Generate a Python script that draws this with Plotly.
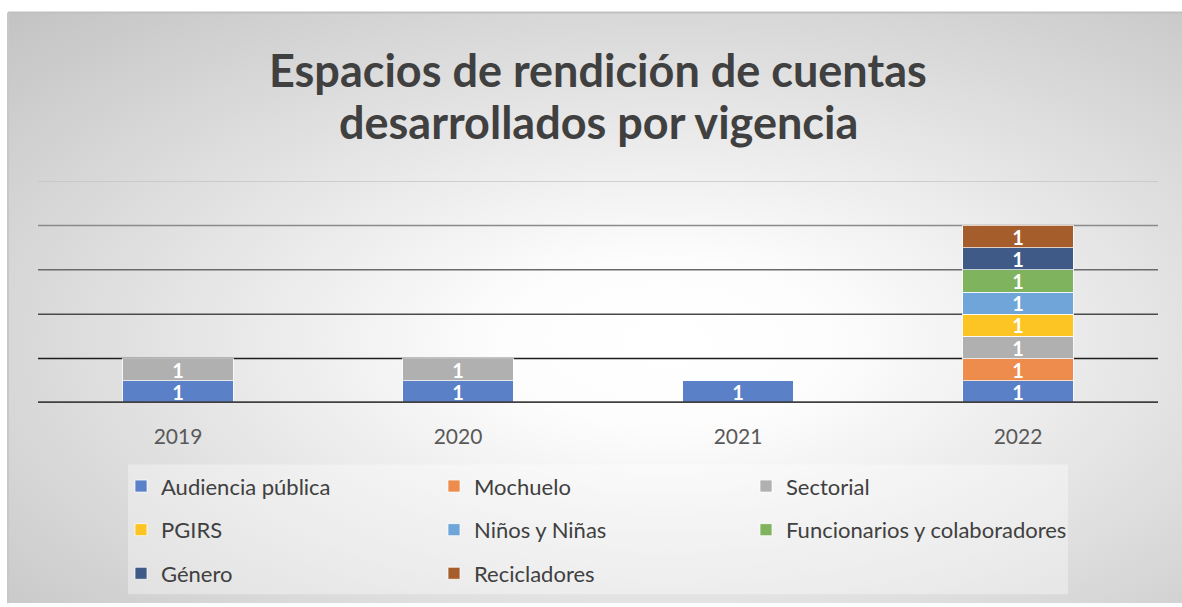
import base64
import plotly.graph_objects as go

years = ["2019", "2020", "2021", "2022"]
series_names = ["Audiencia pública", "Mochuelo", "Sectorial", "PGIRS",
                "Niños y Niñas", "Funcionarios y colaboradores", "Género", "Recicladores"]
audiencia = [1, 1, 1, 1]
mochuelo = [None, None, None, 1]
sectorial = [1, 1, None, 1]
pgirs = [None, None, None, 1]
ninos = [None, None, None, 1]
funcionarios = [None, None, None, 1]
genero = [None, None, None, 1]
recicladores = [None, None, None, 1]
values = [audiencia, mochuelo, sectorial, pgirs, ninos, funcionarios, genero, recicladores]
colors = ["#5a80c8", "#ed8c4c", "#b0b0b0", "#fcc523", "#6fa5d8", "#80b35e", "#3f5a87", "#a65d2c"]

W, H = 1182, 607
L, R, T, B = 38, 24, 181, 202
pw, ph = W - L - R, H - T - B

def px_x(x):
    return (x - L) / pw

def px_y(y):
    return (H - B - y) / ph

# legend grid: 3 columns x 3 rows (pixel positions of each entry)
leg_cols = [121, 434, 746]
leg_rows = [489, 533, 577]

fig = go.Figure()
legends = {}
for i, (name, vals, col) in enumerate(zip(series_names, values, colors)):
    lg = "legend" if i == 0 else "legend%d" % (i + 1)
    legends[lg] = dict(orientation="h", xanchor="left", yanchor="middle",
                       itemwidth=30, bgcolor="rgba(0,0,0,0)",
                       font=dict(family="Lato", size=22, color="#404040"),
                       x=px_x(leg_cols[i % 3]), y=px_y(leg_rows[i // 3]))
    fig.add_trace(go.Bar(
        x=years, y=vals, name=name, legend=lg,
        marker=dict(color=col, line=dict(color="rgba(255,255,255,0.7)", width=1)),
        text=[("%d" % v) if v else "" for v in vals],
        textposition="inside", insidetextanchor="middle", textangle=0,
        constraintext="none",
        textfont=dict(family="Lato", size=20, color="white", weight="bold"),
        hoverinfo="skip",
    ))

# background radial gradient
bw, bh = 1174, 596
svg = ('<svg xmlns="http://www.w3.org/2000/svg" width="%d" height="%d" viewBox="0 0 %d %d" preserveAspectRatio="none">'
       '<defs><radialGradient id="g" cx="0.56" cy="0.56" r="0.78">'
       '<stop offset="0" stop-color="#ffffff"/><stop offset="0.18" stop-color="#fdfdfd"/>'
       '<stop offset="1" stop-color="#c4c4c4"/></radialGradient></defs>'
       '<rect width="%d" height="%d" fill="url(#g)"/></svg>') % (bw, bh, bw, bh, bw, bh)
src = "data:image/svg+xml;base64," + base64.b64encode(svg.encode()).decode()

shapes = []
# legend box
shapes.append(dict(type="rect", xref="paper", yref="paper",
                   x0=px_x(128), x1=px_x(1068), y0=px_y(598), y1=px_y(467),
                   fillcolor="rgba(255,255,255,0.35)", line=dict(width=0), layer="below"))
# border of chart area
shapes.append(dict(type="line", xref="paper", yref="paper", x0=px_x(8), x1=px_x(1182),
                   y0=px_y(11), y1=px_y(11), line=dict(color="#c0c0c0", width=2), layer="below"))
shapes.append(dict(type="line", xref="paper", yref="paper", x0=px_x(8), x1=px_x(8),
                   y0=px_y(11), y1=px_y(607), line=dict(color="#c8c8c8", width=2), layer="below"))
grid_vals = [2, 4, 6, 8, 10]
grid_cols = ["#1e1e1e", "#4a4a4a", "#6a6a6a", "#8a8a8a", "#c4c4c4"]
for gv, gc in zip(grid_vals, grid_cols):
    shapes.append(dict(type="line", xref="paper", yref="y", x0=0, x1=1, y0=gv, y1=gv,
                       line=dict(color=gc, width=1.5), layer="below"))
shapes.append(dict(type="line", xref="paper", yref="y", x0=0, x1=1, y0=0, y1=0,
                   line=dict(color="#404040", width=3.5), layer="above"))

title_font = dict(family="Lato", size=45, color="#404040", weight="bold")

fig.update_layout(
    width=W, height=H,
    margin=dict(l=L, r=R, t=T, b=B),
    paper_bgcolor="white", plot_bgcolor="rgba(0,0,0,0)",
    barmode="stack", bargap=0.604,
    showlegend=True,
    xaxis=dict(showgrid=False, showline=False, ticks="", ticklabelstandoff=19,
               tickfont=dict(family="Lato", size=21, color="#595959")),
    yaxis=dict(range=[0, 10], showgrid=False, showticklabels=False, zeroline=False,
               showline=False, ticks=""),
    images=[dict(source=src, xref="paper", yref="paper", x=px_x(8), y=px_y(11),
                 sizex=bw / pw, sizey=bh / ph, xanchor="left", yanchor="top",
                 sizing="stretch", layer="below")],
    shapes=shapes,
    annotations=[
        dict(text="Espacios de rendición de cuentas", xref="paper", yref="paper",
             x=0.5, y=px_y(69), xanchor="center", yanchor="middle", showarrow=False,
             font=title_font),
        dict(text="desarrollados por vigencia", xref="paper", yref="paper",
             x=0.5, y=px_y(121), xanchor="center", yanchor="middle", showarrow=False,
             font=title_font),
    ],
    **legends,
)

fig.write_html("out.html", post_script="document.body.style.margin='0';",
               config={"displayModeBar": False})
